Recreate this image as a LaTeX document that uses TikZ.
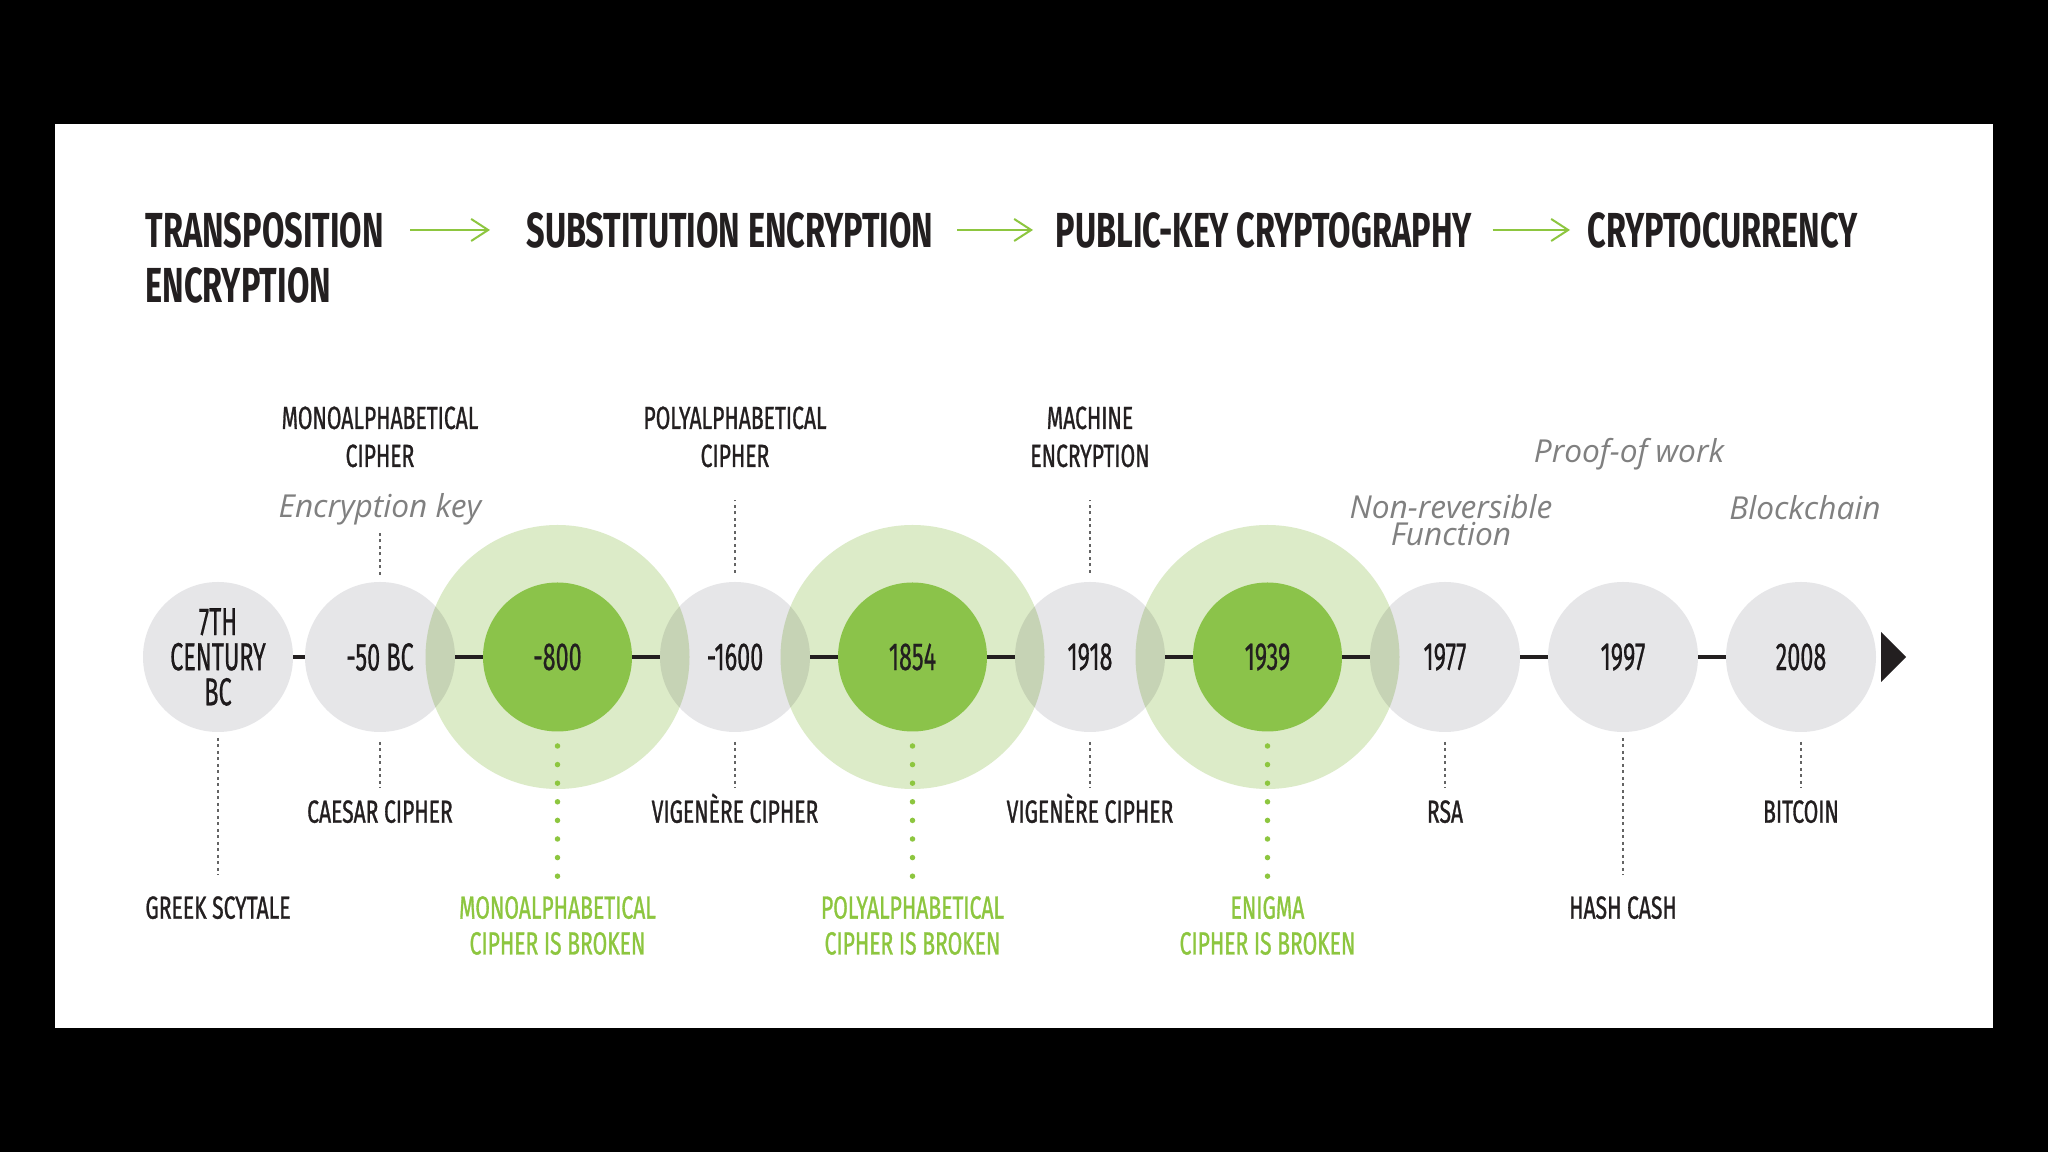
\documentclass[tikz,border=0pt]{standalone}
\usepackage{fontspec}
\usepackage{tikz}
\usetikzlibrary{positioning}
\usetikzlibrary{shapes.geometric}
\usetikzlibrary{arrows.meta}
\usetikzlibrary{backgrounds}

\newfontfamily\headfont[FakeStretch=0.66]{Fira Sans}
\newfontfamily\labelfont[FakeStretch=0.66,FakeBold=0.9]{Fira Sans}
\newfontfamily\yearfont[FakeStretch=0.6,FakeBold=0.5]{Fira Sans}
\newfontfamily\notefont{Open Sans}

\definecolor{ink}{RGB}{35,31,32}
\definecolor{greycircle}{RGB}{230,230,232}
\definecolor{ringgreen}{RGB}{220,235,200}
\definecolor{eventgreen}{RGB}{139,195,74}
\definecolor{brokengreen}{RGB}{141,198,63}
\definecolor{notegrey}{RGB}{128,128,128}
\definecolor{tickgrey}{RGB}{100,100,100}

\begin{document}
\begin{tikzpicture}[
        x = 0.1mm, y = -0.1mm,
        event/.style = {
            circle,
            fill = #1,
            minimum size = 15mm,
            inner sep = 0pt,
            outer sep = 0pt,
            align = center,
            text = ink,
            font = \yearfont\fontsize{11.1}{10}\selectfont
        },
        event/.default = greycircle,
        greyevent/.style = {event, blend mode = multiply},
        keyevent/.style = {event = eventgreen, minimum size = 14.9mm},
        ring/.style = {fill = ringgreen},
        head/.style = {inner sep = 0pt, text = ink, font = \headfont\bfseries\fontsize{14}{15.65}\selectfont},
        caplabel/.style = {inner sep = 0pt, align = center, text = ink, font = \labelfont\fontsize{9.1}{10.8}\selectfont},
        lowlabel/.style = {caplabel, text height = 2.2mm, text depth = 0pt},
        brokenlabel/.style = {caplabel, text = brokengreen, font = \labelfont\fontsize{9.1}{10.2}\selectfont},
        note/.style = {inner sep = 0pt, align = center, text = notegrey, font = \notefont\itshape\fontsize{9}{7.8}\selectfont},
        spine/.style = {draw = ink, line width = 0.45mm},
        tick/.style = {draw = tickgrey, line width = 0.12mm, dash pattern = on 0.3mm off 0.35mm},
        dots/.style = {draw = brokengreen, line width = 0.55mm, line cap = round, dash pattern = on 0pt off 1.86mm},
        steparrow/.style = {draw = brokengreen, line width = 0.2mm, -{Straight Barb[length=1.7mm, width=2.2mm]}},
        endmark/.style = {
            isosceles triangle,
            isosceles triangle apex angle = 90,
            isosceles triangle stretches,
            fill = ink,
            minimum height = 2.5mm,
            minimum width = 5mm,
            inner sep = 0pt,
            outer sep = 0pt
        }
        ]
%
        \begin{scope}[on background layer]
            \fill[black] (0,0) rectangle (2048,1152);
            \fill[white] (55,124) rectangle (1993,1028);
        \end{scope}
%
% headings
        \node[head, align=left, anchor=west] (t1) at (145,258) {TRANSPOSITION\\ENCRYPTION};
        \node[head, anchor=west] (t2) at (526,230) {SUBSTITUTION ENCRYPTION};
        \node[head, anchor=west] (t3) at (1055,230) {PUBLIC-KEY CRYPTOGRAPHY};
        \node[head, anchor=west] (t4) at (1587,230) {CRYPTOCURRENCY};
%
        \draw[steparrow, shorten <=2.6mm, shorten >=3.6mm] (t1.east |- t2.west) -- (t2.west);
        \draw[steparrow, shorten <=2.3mm, shorten >=2.2mm] (t2) -- (t3);
        \draw[steparrow, shorten <=2mm, shorten >=1.7mm] (t3) -- (t4);
%
% timeline
        \node[greyevent] (c1) at (218,657) {7TH\\CENTURY\\BC};
        \node[greyevent, right=1.2mm of c1] (c2) {-50 BC};
        \node[keyevent, right=2.8mm of c2] (c3) {-800};
        \node[greyevent, right=2.8mm of c3] (c4) {-1600};
        \node[keyevent, right=2.8mm of c4] (c5) {1854};
        \node[greyevent, right=2.8mm of c5] (c6) {1918};
        \node[keyevent, right=2.8mm of c6] (c7) {1939};
        \node[greyevent, right=2.8mm of c7] (c8) {1977};
        \node[greyevent, right=2.8mm of c8] (c9) {1997};
        \node[greyevent, right=2.8mm of c9] (c10) {2008};
        \node[endmark, right=0.5mm of c10] (endtip) {};
%
        \begin{scope}[on background layer]
            \fill[ring] (c3) circle [radius=132];
            \fill[ring] (c5) circle [radius=132];
            \fill[ring] (c7) circle [radius=132];
        \end{scope}
%
        \draw[spine] (c1) -- (c2);
        \draw[spine] (c2) -- (c3);
        \draw[spine] (c3) -- (c4);
        \draw[spine] (c4) -- (c5);
        \draw[spine] (c5) -- (c6);
        \draw[spine] (c6) -- (c7);
        \draw[spine] (c7) -- (c8);
        \draw[spine] (c8) -- (c9);
        \draw[spine] (c9) -- (c10);
%
% above the line
        \node[note, above=5.6mm of c2] (enckey) {Encryption key};
        \node[caplabel, above=11.4mm of c2] (mono) {MONOALPHABETICAL\\CIPHER};
        \node[caplabel, above=11.4mm of c4] (poly) {POLYALPHABETICAL\\CIPHER};
        \node[caplabel, above=11.4mm of c6] (machine) {MACHINE\\ENCRYPTION};
        \node[note, above=3.5mm of c8, xshift=0.6mm] (nonrev) {Non-reversible\\Function};
        \node[note, above=11.1mm of c9, xshift=0.6mm] (proof) {Proof-of work};
        \node[note, above=6.1mm of c10, xshift=0.4mm] (chain) {Blockchain};
%
        \draw[tick, shorten <=0.7mm, shorten >=0.6mm] (c2) -- (enckey);
        \draw[tick, shorten <=0.9mm, shorten >=3.2mm] (c4) -- (poly);
        \draw[tick, shorten <=0.9mm, shorten >=3.2mm] (c6) -- (machine);
%
% below the line
        \node[lowlabel, below=16.4mm of c1] (greek) {GREEK SCYTALE};
        \node[lowlabel, below=6.8mm of c2] (caesar) {CAESAR CIPHER};
        \node[brokenlabel, below=16.4mm of c3] (brokenA) {MONOALPHABETICAL\\CIPHER IS BROKEN};
        \node[lowlabel, below=6.8mm of c4] (vigA) {VIGENÈRE CIPHER};
        \node[brokenlabel, below=16.4mm of c5] (brokenB) {POLYALPHABETICAL\\CIPHER IS BROKEN};
        \node[lowlabel, below=6.8mm of c6] (vigB) {VIGENÈRE CIPHER};
        \node[brokenlabel, below=16.4mm of c7] (brokenC) {ENIGMA\\CIPHER IS BROKEN};
        \node[lowlabel, below=6.8mm of c8] (rsa) {RSA};
        \node[lowlabel, below=16.4mm of c9] (hash) {HASH CASH};
        \node[lowlabel, below=6.8mm of c10] (bitcoin) {BITCOIN};
%
        \draw[tick, shorten <=0.6mm, shorten >=2.1mm] (c1) -- (greek);
        \draw[tick, shorten <=1mm, shorten >=1.2mm] (c2) -- (caesar);
        \draw[tick, shorten <=1mm, shorten >=1.2mm] (c4) -- (vigA);
        \draw[tick, shorten <=1mm, shorten >=1.2mm] (c6) -- (vigB);
        \draw[tick, shorten <=1mm, shorten >=1.2mm] (c8) -- (rsa);
        \draw[tick, shorten <=0.6mm, shorten >=2.1mm] (c9) -- (hash);
        \draw[tick, shorten <=1mm, shorten >=1.2mm] (c10) -- (bitcoin);
%
        \draw[dots, shorten <=1.45mm, shorten >=1.85mm] (c3) -- (brokenA);
        \draw[dots, shorten <=1.45mm, shorten >=1.85mm] (c5) -- (brokenB);
        \draw[dots, shorten <=1.45mm, shorten >=1.85mm] (c7) -- (brokenC);
    \end{tikzpicture}
\end{document}
